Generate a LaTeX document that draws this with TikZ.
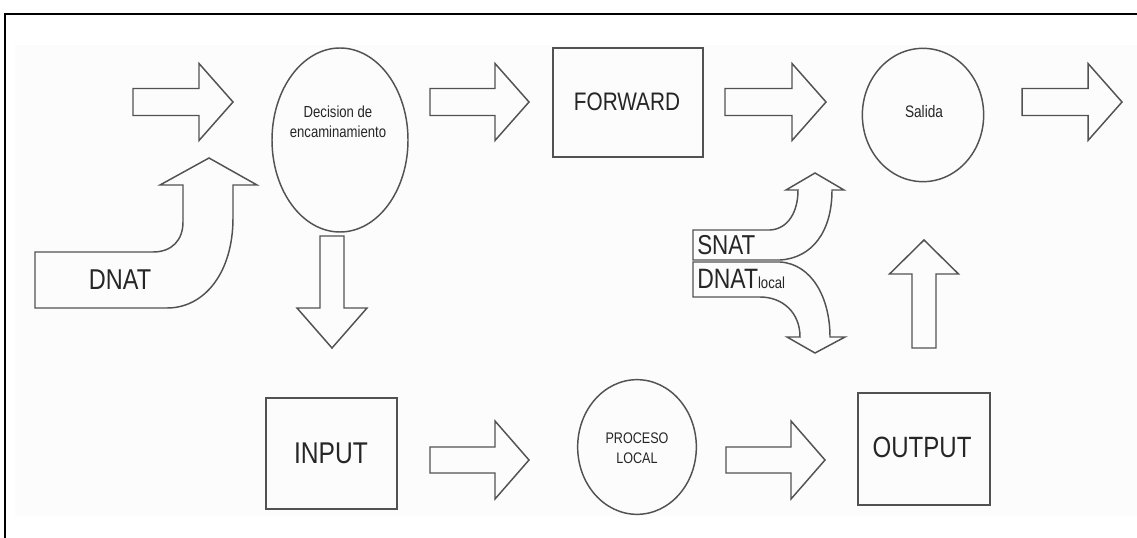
\documentclass[tikz,border=0pt]{standalone}
\usepackage{fontspec}
\setmainfont{Liberation Sans}
\newfontfamily\narrowsans[FakeStretch=0.82]{Liberation Sans}
\usetikzlibrary{shapes.geometric}

\tikzset{
  outline/.style={draw=black!68, line width=1.1pt, line join=miter},
  txt/.style={text=black!85, inner sep=0pt, font=\narrowsans},
  stage/.style={outline, rectangle, inner sep=0pt},
  decision/.style={outline, ellipse, inner sep=0pt},
  % straight block arrow pointing along +x from the origin:
  % #1 length, #2 shaft half width, #3 head half width, #4 head length
  pics/barrow/.style n args={4}{code={
    \draw[outline] (0,-#2) -- (#1-#4,-#2) -- (#1-#4,-#3) -- (#1,0)
      -- (#1-#4,#3) -- (#1-#4,#2) -- (0,#2) -- cycle;
  }}
}

\begin{document}
\begin{tikzpicture}[x=0.75pt, y=-0.75pt]
\useasboundingbox (0,0) rectangle (1137,538);
\fill[black!1] (15,45) rectangle (1137,516);

% page frame
\draw[line width=2pt] (5,538) -- (5,14) -- (1137,14);

% stages
\node[decision, minimum width=102pt, minimum height=138pt] (dec) at (340,140) {};
\node[txt, align=center, font=\narrowsans\fontsize{12}{15}\selectfont] (dectxt) at (338,122) {Decision de\\encaminamiento};
\node[stage, minimum width=112.5pt, minimum height=82pt] (fwd) at (628,102.5) {};
\node[txt, font=\narrowsans\fontsize{19}{22}\selectfont] (fwdtxt) at (627,102) {FORWARD};
\node[decision, minimum width=91pt, minimum height=100pt] (sal) at (923,115) {};
\node[txt, font=\narrowsans\fontsize{12.5}{15}\selectfont] (saltxt) at (924,112) {Salida};
\node[stage, minimum width=98pt, minimum height=83pt] (inp) at (331.5,453.5) {};
\node[txt, font=\narrowsans\fontsize{22.5}{26}\selectfont] (inptxt) at (331,453) {INPUT};
\node[decision, minimum width=89pt, minimum height=101pt] (proc) at (637,447) {};
\node[txt, align=center, font=\narrowsans\fontsize{11.5}{15}\selectfont] (proctxt) at (637,448) {PROCESO\\LOCAL};
\node[stage, minimum width=99pt, minimum height=84pt] (out) at (924,449) {};
\node[txt, font=\narrowsans\fontsize{22}{26}\selectfont] (outtxt) at (922,447) {OUTPUT};

% straight block arrows
\pic at (133,102) {barrow={100}{13.5}{38.5}{34}};
\pic at (430,102) {barrow={99}{13.5}{38.5}{34}};
\pic at (725,102) {barrow={101}{13.5}{38.5}{34}};
\pic at (1022,102) {barrow={100}{13.5}{38.5}{34}};
\pic at (430,460) {barrow={99}{13}{39}{34}};
\pic at (726,460) {barrow={99}{13}{39}{34}};
\pic[rotate=-90] at (332,236) {barrow={112}{12}{35}{40}};
\pic[rotate=90] at (924,348) {barrow={108}{12}{34.5}{34}};

% DNAT bent arrow into the routing decision
\draw[outline] (35,252) -- (153,252) .. controls (172,252) and (183,240) .. (183,222)
  -- (183,185) -- (160,185) -- (209,158) -- (257,185) -- (233,185) -- (233,218)
  .. controls (233,272) and (205,308) .. (167,308) -- (35,308) -- cycle;
\node[txt, font=\narrowsans\fontsize{21.5}{25}\selectfont] (dnat) at (120,280) {DNAT};

% SNAT / DNAT local split arrow
\draw[outline] (693,230) -- (770,230) .. controls (788,229) and (798,212) .. (798,190)
  -- (786,190) -- (815,173) -- (844,190) -- (832,190)
  .. controls (832,232) and (812,258) .. (780,260) -- (693,260) -- cycle;
\draw[outline] (693,262) -- (780,262) .. controls (812,264) and (830,298) .. (830,337)
  -- (845,337) -- (815,353) -- (787,337) -- (800,337)
  .. controls (800,312) and (782,297) .. (760,297) -- (693,297) -- cycle;
\node[txt, anchor=west, font=\narrowsans\fontsize{20.5}{24}\selectfont] (snat) at (697,245) {SNAT};
\node[txt, anchor=base west, font=\narrowsans\fontsize{21}{24}\selectfont] (dnatl) at (697,288)
  {DNAT{\fontsize{12}{14}\selectfont local}};
\end{tikzpicture}
\end{document}
